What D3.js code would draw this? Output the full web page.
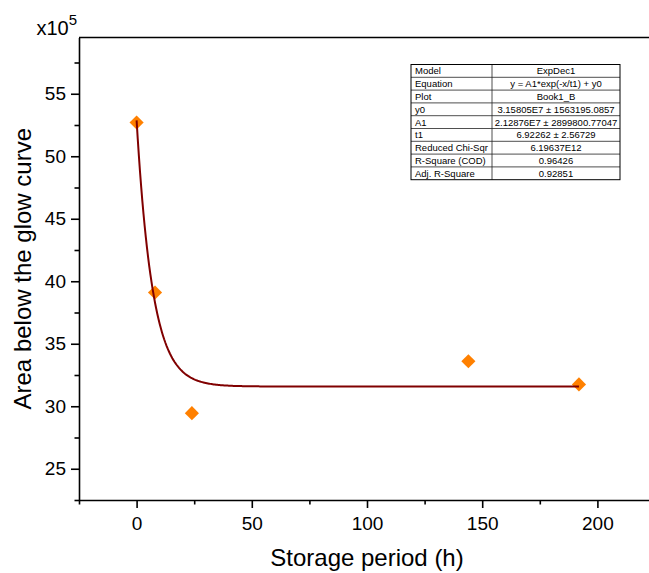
<!DOCTYPE html>
<html>
<head>
<meta charset="utf-8">
<script src="https://cdn.jsdelivr.net/npm/d3@7"></script>
<style>
  html, body { margin: 0; padding: 0; background: #fff; }
  svg { display: block; font-family: Arial, "Liberation Sans", sans-serif; }
</style>
</head>
<body>
<svg id="chart" width="649" height="573"></svg>
<script>
// Measured glow-curve area (in units of 1e5) against storage time
const storageHours = [0, 8, 24, 144, 192];
const glowArea = [52.7, 39.1, 29.45, 33.6, 31.75];

// ExpDec1 fit parameters, in axis units (1e5)
const fitY0 = [31.5805];
const fitA1 = [21.2876];
const fitT1 = [6.92262];

// Tick values
const xMajorTicks = [0, 50, 100, 150, 200];
const xMinorTicks = [-25, 25, 75, 125, 175, 225];
const yMajorTicks = [25, 30, 35, 40, 45, 50, 55];
const yMinorTicks = [22.5, 27.5, 32.5, 37.5, 42.5, 47.5, 52.5, 57.5];

// Fit summary table
const tableKeys = ["Model", "Equation", "Plot", "y0", "A1", "t1",
  "Reduced Chi-Sqr", "R-Square (COD)", "Adj. R-Square"];
const tableValues = ["ExpDec1", "y = A1*exp(-x/t1) + y0", "Book1_B",
  "3.15805E7 \u00b1 1563195.0857", "2.12876E7 \u00b1 2899800.77047",
  "6.92262 \u00b1 2.56729", "6.19637E12", "0.96426", "0.92851"];

const svg = d3.select("#chart");
const plot = { left: 79, right: 655, top: 37.5, bottom: 500 };

const x = d3.scaleLinear().domain([-25, 225]).range([plot.left, plot.right]);
const y = d3.scaleLinear().domain([22.5, 59.5]).range([plot.bottom, plot.top]);

const axisStroke = 1.6;

function styleAxis(g) {
  g.select(".domain").attr("stroke", "#000").attr("stroke-width", axisStroke);
  g.selectAll(".tick line").attr("stroke", "#000").attr("stroke-width", axisStroke);
  g.selectAll(".tick text").attr("fill", "#000").attr("font-size", 19)
    .attr("font-family", "Arial, 'Liberation Sans', sans-serif");
}

// Bottom axis
svg.append("g")
  .attr("transform", `translate(0,${plot.bottom})`)
  .call(d3.axisBottom(x).tickValues(xMinorTicks).tickSize(4.5).tickSizeOuter(0).tickFormat(""))
  .call(styleAxis);
svg.append("g")
  .attr("transform", `translate(0,${plot.bottom})`)
  .call(d3.axisBottom(x).tickValues(xMajorTicks).tickSize(8).tickSizeOuter(0).tickPadding(9))
  .call(styleAxis)
  .call(g => g.select(".domain").remove());

// Left axis
svg.append("g")
  .attr("transform", `translate(${plot.left},0)`)
  .call(d3.axisLeft(y).tickValues(yMinorTicks).tickSize(4.5).tickSizeOuter(0).tickFormat(""))
  .call(styleAxis);
svg.append("g")
  .attr("transform", `translate(${plot.left},0)`)
  .call(d3.axisLeft(y).tickValues(yMajorTicks).tickSize(8).tickSizeOuter(0).tickPadding(5))
  .call(styleAxis)
  .call(g => g.select(".domain").remove());

// Top frame line
svg.append("line")
  .attr("x1", plot.left).attr("x2", plot.right)
  .attr("y1", plot.top).attr("y2", plot.top)
  .attr("stroke", "#000").attr("stroke-width", axisStroke);

// Axis scale factor
const mult = svg.append("text")
  .attr("x", 36.5).attr("y", 35)
  .attr("font-size", 20).attr("fill", "#000");
mult.append("tspan").text("x10");
mult.append("tspan").attr("dy", -10).attr("font-size", 15).text("5");

// Axis titles
svg.append("text")
  .attr("x", (plot.left + plot.right) / 2).attr("y", 566)
  .attr("text-anchor", "middle").attr("font-size", 24).attr("fill", "#000")
  .text("Storage period (h)");
svg.append("text")
  .attr("transform", `translate(31,${(plot.top + plot.bottom) / 2}) rotate(-90)`)
  .attr("text-anchor", "middle").attr("font-size", 24).attr("fill", "#000")
  .text("Area below the glow curve");

// Data markers (rotated squares)
const pts = storageHours.map((h, i) => ({ h, v: glowArea[i] }));
svg.append("g").selectAll("path")
  .data(pts)
  .join("path")
  .attr("d", d3.symbol(d3.symbolSquare, 100))
  .attr("transform", d => `translate(${x(d.h)},${y(d.v)}) rotate(45)`)
  .attr("fill", "#FF8000");

// Fitted ExpDec1 curve over the measured range
const fitX = d3.range(0, 192.01, 0.5);
const fitPts = fitX.map(t => ({ h: t, v: fitY0[0] + fitA1[0] * Math.exp(-t / fitT1[0]) }));
svg.append("path")
  .datum(fitPts)
  .attr("fill", "none")
  .attr("stroke", "#800000")
  .attr("stroke-width", 2)
  .attr("d", d3.line().x(d => x(d.h)).y(d => y(d.v)));

// Fit summary table
const tbl = { left: 411, right: 620, top: 64.5, rowH: 12.8, split: 492 };
const tg = svg.append("g");
tg.append("rect")
  .attr("x", tbl.left).attr("y", tbl.top)
  .attr("width", tbl.right - tbl.left).attr("height", tbl.rowH * tableKeys.length)
  .attr("fill", "#fff");
tableKeys.forEach((k, i) => {
  const ry = tbl.top + i * tbl.rowH;
  if (i > 0) {
    tg.append("line")
      .attr("x1", tbl.left).attr("x2", tbl.right)
      .attr("y1", ry).attr("y2", ry)
      .attr("stroke", "#222").attr("stroke-width", 0.8);
  }
  tg.append("text")
    .attr("x", tbl.left + 4).attr("y", ry + tbl.rowH - 3)
    .attr("font-size", 9.5).attr("fill", "#000")
    .text(k);
  tg.append("text")
    .attr("x", (tbl.split + tbl.right) / 2).attr("y", ry + tbl.rowH - 3)
    .attr("text-anchor", "middle")
    .attr("font-size", 9.5).attr("fill", "#000")
    .text(tableValues[i]);
});
tg.append("line")
  .attr("x1", tbl.split).attr("x2", tbl.split)
  .attr("y1", tbl.top).attr("y2", tbl.top + tbl.rowH * tableKeys.length)
  .attr("stroke", "#222").attr("stroke-width", 0.8);
tg.append("rect")
  .attr("x", tbl.left).attr("y", tbl.top)
  .attr("width", tbl.right - tbl.left).attr("height", tbl.rowH * tableKeys.length)
  .attr("fill", "none").attr("stroke", "#000").attr("stroke-width", 1);
</script>
</body>
</html>
